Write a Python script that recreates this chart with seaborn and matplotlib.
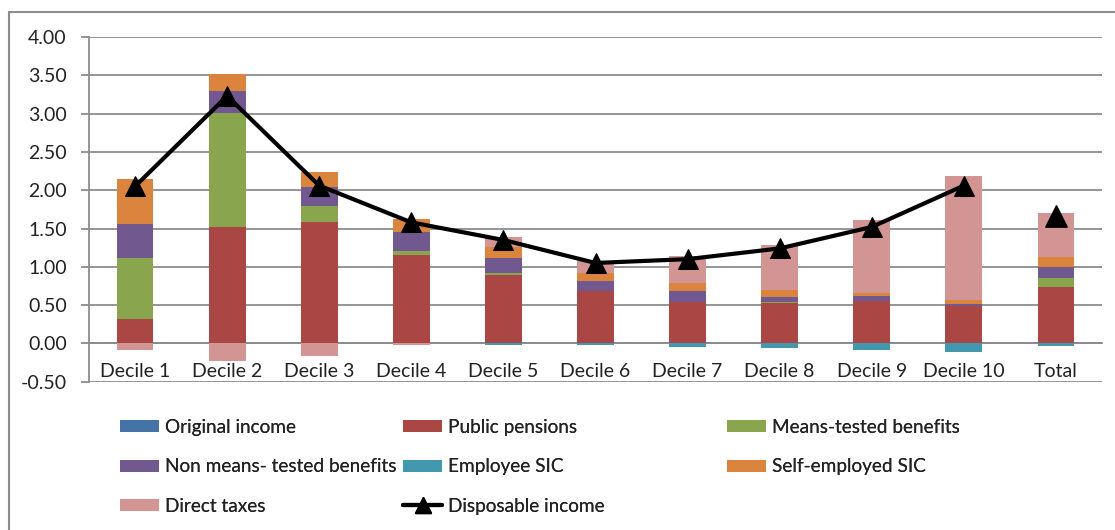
import numpy as np
import pandas as pd
import seaborn as sns
import matplotlib.pyplot as plt
from matplotlib.patches import Patch, Rectangle
from matplotlib.lines import Line2D

# --------------------------------------------------
# DATA
# --------------------------------------------------
deciles = ["Decile 1", "Decile 2", "Decile 3", "Decile 4", "Decile 5", "Decile 6",
           "Decile 7", "Decile 8", "Decile 9", "Decile 10", "Total"]

original_income = [0, 0, 0, 0, 0, 0, 0, 0, 0, 0, 0]
public_pensions = [0.32, 1.525, 1.58, 1.155, 0.89, 0.68, 0.54, 0.523, 0.553, 0.488, 0.732]
means_tested = [0.80, 1.48, 0.22, 0.05, 0.025, 0.0, 0.005, 0.017, 0.005, 0.0, 0.12]
non_means_tested = [0.435, 0.295, 0.24, 0.255, 0.195, 0.135, 0.135, 0.07, 0.057, 0.025, 0.145]
employee_sic = [0, 0, 0, 0, -0.026, -0.02, -0.045, -0.057, -0.088, -0.114, -0.04]
self_employed_sic = [0.595, 0.215, 0.195, 0.16, 0.15, 0.10, 0.115, 0.09, 0.043, 0.053, 0.127]
direct_taxes = [-0.085, -0.225, -0.165, -0.02, 0.125, 0.16, 0.34, 0.585, 0.947, 1.614, 0.583]
disposable_income = [2.05, 3.23, 2.06, 1.58, 1.35, 1.05, 1.10, 1.24, 1.52, 2.06, 1.66]

y_ticks = [-0.5, 0.0, 0.5, 1.0, 1.5, 2.0, 2.5, 3.0, 3.5, 4.0]

series = [
    ("Original income", original_income, "#4573A7"),
    ("Public pensions", public_pensions, "#AA4643"),
    ("Means-tested benefits", means_tested, "#89A54E"),
    ("Non means- tested benefits", non_means_tested, "#71588F"),
    ("Employee SIC", employee_sic, "#4198AF"),
    ("Self-employed SIC", self_employed_sic, "#DB843D"),
    ("Direct taxes", direct_taxes, "#D39594"),
]

# --------------------------------------------------
# STYLE
# --------------------------------------------------
sns.set_style("white")
plt.rcParams["font.family"] = ["Lato", "DejaVu Sans"]
plt.rcParams["text.color"] = "#222222"
grid_col = "#8c8c8c"

fig = plt.figure(figsize=(11.15, 5.30), dpi=100)
ax = fig.add_axes([89 / 1115, 1 - 381.7 / 530, (1102 - 89) / 1115, (381.7 - 37) / 530])

# --------------------------------------------------
# STACKED BARS (positives up, negatives down, like Excel)
# --------------------------------------------------
pos_base = np.zeros(len(deciles))
neg_base = np.zeros(len(deciles))
for name, vals, col in series:
    vals = np.array(vals, dtype=float)
    bottom = np.where(vals >= 0, pos_base, neg_base)
    df = pd.DataFrame({"group": deciles, "value": vals})
    sns.barplot(data=df, x="group", y="value", order=deciles, bottom=bottom,
                color=col, saturation=1, width=0.4, errorbar=None,
                linewidth=0, ax=ax, zorder=2)
    pos_base = pos_base + np.clip(vals, 0, None)
    neg_base = neg_base + np.clip(vals, None, 0)

# disposable income: line over the deciles, lone marker for the total
line_df = pd.DataFrame({"group": deciles[:10], "value": disposable_income[:10]})
sns.lineplot(data=line_df, x="group", y="value", sort=False, color="black",
             linewidth=3, marker="^", markersize=15, markeredgecolor="black",
             ax=ax, zorder=4)
sns.scatterplot(x=deciles[10:], y=disposable_income[10:], marker="^", s=230,
                color="black", edgecolor="black", ax=ax, zorder=4)

# --------------------------------------------------
# AXES
# --------------------------------------------------
ax.set_xlim(-0.5, len(deciles) - 0.5)
ax.set_ylim(-0.5, 4.0)
ax.set_yticks(y_ticks)
ax.set_yticklabels([f"{t:.2f}" for t in y_ticks])
ax.yaxis.grid(True, color=grid_col, linewidth=1.3, zorder=0)
ax.set_axisbelow(True)
ax.set_xlabel("")
ax.set_ylabel("")

for s in ["top", "right"]:
    ax.spines[s].set_visible(False)
ax.spines["left"].set_color(grid_col)
ax.spines["left"].set_linewidth(1.3)
ax.spines["bottom"].set_position(("data", 0))
ax.spines["bottom"].set_color(grid_col)
ax.spines["bottom"].set_linewidth(1.3)
ax.spines["bottom"].set_zorder(1)

ax.set_xticks(range(len(deciles)))
ax.set_xticklabels(deciles)
ax.set_xticks(np.arange(0.5, len(deciles) - 0.5, 1), minor=True)
ax.tick_params(axis="x", which="major", length=0, pad=14, labelsize=14, labelcolor="#222222")
ax.tick_params(axis="x", which="minor", length=6, width=1.3, color=grid_col, direction="out")
ax.tick_params(axis="y", length=6, width=1.3, color=grid_col, pad=10, labelsize=14,
               labelcolor="#222222", left=True)

# --------------------------------------------------
# LEGEND (three columns with Excel spacing)
# --------------------------------------------------
handles = {name: Patch(facecolor=col, edgecolor="none") for name, _, col in series}
handles["Disposable income"] = Line2D([], [], color="black", linewidth=3,
                                      marker="^", markersize=11)
columns = [
    (["Original income", "Non means- tested benefits", "Direct taxes"], 120),
    (["Public pensions", "Employee SIC", "Disposable income"], 403),
    (["Means-tested benefits", "Self-employed SIC"], 727),
]
for names, x0 in columns:
    leg = fig.legend([handles[n] for n in names], names, loc="upper left",
                     bbox_to_anchor=(x0 / 1115, 1 - 419 / 530), frameon=False,
                     fontsize=13.7, borderpad=0, borderaxespad=0, handlelength=2.05,
                     handleheight=0.6, handletextpad=0.3, labelspacing=1.17)
    fig.add_artist(leg)

# outer chart border
fig.patches.append(Rectangle((9 / 1115, -0.1), 1.2, 1.1 - 12 / 530,
                             transform=fig.transFigure, fill=False,
                             edgecolor=grid_col, linewidth=1.5))

fig.savefig("out.png", dpi=100)
